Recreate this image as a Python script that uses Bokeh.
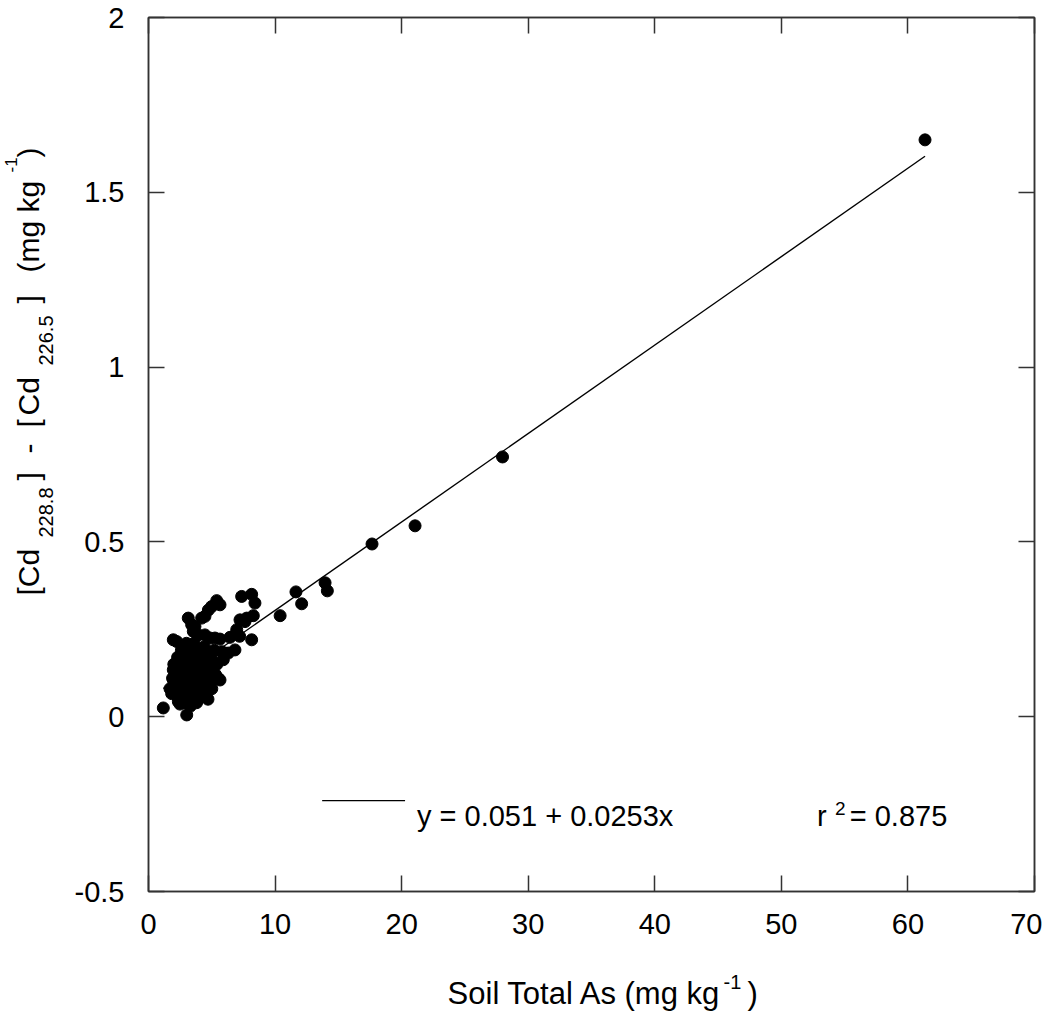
import math
from bokeh.plotting import figure
from bokeh.layouts import row, column
from bokeh.models import LinearAxis, FixedTicker, Label, ColumnDataSource, Range1d
from bokeh.embed import file_html
from bokeh.resources import INLINE

# ---------------- data ----------------
soil_as = [
    61.35, 27.97, 21.06, 17.66, 13.95, 14.13, 11.65, 12.10, 10.40,
    8.15, 8.41, 7.36, 8.28, 7.62, 7.76, 8.15, 6.97, 6.44, 5.65, 5.25, 4.86, 4.46,
    6.83, 6.04, 5.78, 5.91, 5.25, 5.51, 5.65, 6.30, 5.39, 5.65, 4.99, 4.73, 4.46,
    4.20, 3.14, 3.41, 3.67, 3.54, 3.94, 1.96, 2.23, 2.88, 3.02, 1.96, 1.70, 1.83,
    2.36, 2.49, 1.17, 3.02, 7.23, 6.97, 7.20,
    2.0, 2.2, 2.4, 2.5, 2.6, 2.7, 2.8, 2.9, 3.0, 3.0, 3.1, 3.2, 3.2, 3.3, 3.4,
    3.4, 3.5, 3.5, 3.6, 3.7, 3.7, 3.8, 3.8, 3.9, 4.0, 4.0, 4.1, 4.1, 4.2, 4.3,
    4.3, 4.4, 4.5, 4.6, 4.6, 4.8, 4.9, 5.0, 5.1, 5.2, 2.3, 2.1, 2.6, 3.0, 3.6,
    4.4, 3.3, 2.8, 4.7, 5.3,
    2.4, 2.6, 2.9, 3.1, 3.3, 3.5, 3.9, 4.2, 3.6, 3.9, 4.5, 4.8, 3.2, 2.7, 2.5,
    4.0, 3.4, 2.2, 1.9, 2.0, 4.9, 5.4, 4.2, 3.7, 3.0, 4.4, 2.9, 5.0, 3.8, 2.4,
]
cd_diff = [
    1.650, 0.743, 0.546, 0.494, 0.383, 0.360, 0.357, 0.323, 0.289,
    0.350, 0.325, 0.344, 0.289, 0.272, 0.282, 0.220, 0.240, 0.227, 0.222, 0.225, 0.225, 0.234,
    0.191, 0.182, 0.186, 0.163, 0.154, 0.110, 0.105, 0.182, 0.332, 0.320, 0.315, 0.305, 0.287,
    0.282, 0.282, 0.263, 0.258, 0.244, 0.234, 0.220, 0.215, 0.201, 0.191, 0.134, 0.080, 0.066,
    0.043, 0.036, 0.025, 0.005, 0.277, 0.249, 0.230,
    0.10, 0.12, 0.09, 0.14, 0.06, 0.11, 0.16, 0.08, 0.13, 0.05, 0.10, 0.17, 0.07, 0.12, 0.15,
    0.09, 0.04, 0.19, 0.11, 0.14, 0.07, 0.17, 0.10, 0.12, 0.15, 0.06, 0.09, 0.19, 0.13, 0.11,
    0.16, 0.08, 0.14, 0.18, 0.10, 0.12, 0.16, 0.08, 0.14, 0.19, 0.17, 0.07, 0.19, 0.21, 0.21,
    0.20, 0.03, 0.04, 0.05, 0.12,
    0.11, 0.13, 0.11, 0.14, 0.16, 0.13, 0.16, 0.10, 0.08, 0.05, 0.11, 0.15, 0.19, 0.08, 0.17,
    0.12, 0.06, 0.09, 0.11, 0.15, 0.10, 0.15, 0.07, 0.18, 0.15, 0.17, 0.18, 0.18, 0.04, 0.05,
]
fit_intercept = 0.051
fit_slope = 0.0253
fit_text = "y = 0.051 + 0.0253x"
r2_text = "= 0.875"

x_ticks = [0, 10, 20, 30, 40, 50, 60, 70]
y_ticks = [-0.5, 0, 0.5, 1, 1.5, 2]
y_tick_labels = ["-0.5", "0", "0.5", "1", "1.5", "2"]

FONT = "Liberation Sans"
EDGE = "#333333"
TOP_H = 946            # height of the row holding the plot
B_TOP, B_BOT = 17, 55  # borders around the 874 px frame

# ---------------- main plot ----------------
p = figure(
    width=972, height=TOP_H,
    x_range=(0, 70), y_range=(-0.5, 2),
    output_backend="svg", toolbar_location=None,
    min_border_left=78, min_border_top=B_TOP, min_border_right=8, min_border_bottom=B_BOT,
    x_axis_location=None, y_axis_location=None,
)
p.xgrid.visible = False
p.ygrid.visible = False
p.outline_line_color = EDGE
p.outline_line_width = 1.5


def make_axis(ticks, show, overrides=None):
    ax = LinearAxis(ticker=FixedTicker(ticks=ticks))
    ax.major_tick_in = 16
    ax.major_tick_out = 0
    ax.minor_tick_line_color = None
    ax.axis_line_color = EDGE
    ax.axis_line_width = 1.5
    ax.major_tick_line_color = EDGE
    ax.major_tick_line_width = 1.5
    ax.major_label_text_font = FONT
    if show:
        ax.major_label_text_font_size = "29px"
        ax.major_label_text_color = "black"
    else:
        ax.major_label_text_font_size = "0px"
        ax.major_label_text_color = None
    if overrides:
        ax.major_label_overrides = overrides
    return ax


bottom = make_axis(x_ticks, True)
bottom.major_label_standoff = 22
left = make_axis(y_ticks, True, {t: s for t, s in zip(y_ticks, y_tick_labels)})
left.major_label_standoff = 24
top = make_axis(x_ticks, False)
right = make_axis(y_ticks, False)
p.add_layout(bottom, "below")
p.add_layout(left, "left")
p.add_layout(top, "above")
p.add_layout(right, "right")

x0, x1 = min(soil_as), max(soil_as)
p.line([x0, x1], [fit_intercept + fit_slope * x0, fit_intercept + fit_slope * x1],
       line_color="black", line_width=1.4)

src = ColumnDataSource(dict(x=soil_as, y=cd_diff))
p.scatter("x", "y", source=src, marker="circle", size=12,
          fill_color="black", line_color="black")


def lab(fig, txt, x, y, size, angle=0.0, align="left"):
    fig.add_layout(Label(x=x, y=y, text=txt, angle=angle, text_font=FONT,
                         text_font_size=size, text_color="black",
                         text_align=align, text_baseline="alphabetic"))


# legend-like annotation inside the frame
p.line([13.72, 20.27], [-0.240, -0.240], line_color="black", line_width=1.4)
lab(p, fit_text, 21.21, -0.284, "29px")
lab(p, "r", 52.82, -0.284, "29px")
lab(p, "2", 54.24, -0.262, "19px")
lab(p, r2_text, 55.40, -0.284, "29px")

# ---------------- y-axis title panel: same vertical borders as the plot ----------------
yt = figure(width=70, height=TOP_H, x_range=Range1d(0, 70),
            y_range=Range1d(B_TOP + 874, B_TOP),
            output_backend="svg", toolbar_location=None,
            min_border_left=0, min_border_right=0,
            min_border_top=B_TOP, min_border_bottom=B_BOT,
            x_axis_location=None, y_axis_location=None)
yt.xgrid.visible = False
yt.ygrid.visible = False
yt.outline_line_color = None
ang = math.pi / 2
for txt, xx, yy, fs in [
    ("[Cd", 28, 595, "30px"),
    ("228.8", 45, 537, "20px"),
    ("]", 28, 480, "30px"),
    ("-", 28, 453, "30px"),
    ("[", 28, 427, "30px"),
    ("Cd", 28, 415, "30px"),
    ("226.5", 45, 365, "20px"),
    ("]", 28, 303, "30px"),
    ("(mg kg", 28, 272, "30px"),
    ("-1", 10, 172, "17px"),
    (")", 28, 157, "30px"),
]:
    lab(yt, txt, xx, yy, fs, angle=ang)

# ---------------- x-axis title panel (page pixel coordinates) ----------------
XT_TOP, XT_H = TOP_H, 70
xt = figure(width=1042, height=XT_H, x_range=Range1d(0, 1042),
            y_range=Range1d(XT_TOP + XT_H, XT_TOP),
            output_backend="svg", toolbar_location=None, min_border=0,
            x_axis_location=None, y_axis_location=None)
xt.xgrid.visible = False
xt.ygrid.visible = False
xt.outline_line_color = None
lab(xt, "Soil Total As (mg kg", 721, 993, "31px", align="right")
lab(xt, "-1", 723, 981, "20px")
lab(xt, ")", 747, 993, "31px")

layout = column(row(yt, p, spacing=0), xt, spacing=0)
open("out.html", "w").write(file_html(layout, INLINE))
